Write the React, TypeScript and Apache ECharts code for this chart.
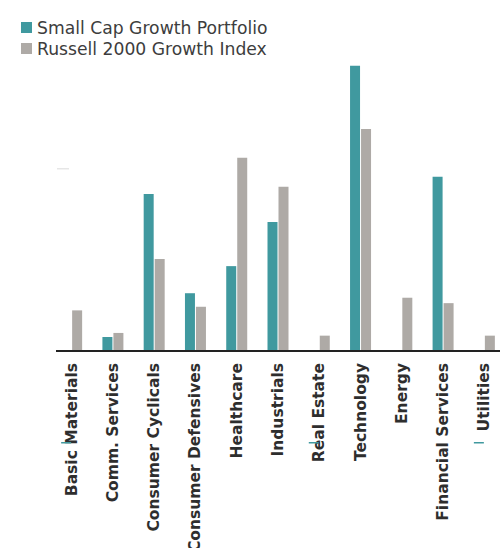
import React, { useEffect, useRef } from "react";
import * as echarts from "echarts";

const categories = [
  "Basic Materials",
  "Comm. Services",
  "Consumer Cyclicals",
  "Consumer Defensives",
  "Healthcare",
  "Industrials",
  "Real Estate",
  "Technology",
  "Energy",
  "Financial Services",
  "Utilities",
];

const portfolioName = "Small Cap Growth Portfolio";
const indexName = "Russell 2000 Growth Index";

const portfolioValues = [0, 1.55, 17.4, 6.4, 9.4, 14.3, 0, 31.6, 0, 19.3, 0];
const indexValues = [4.5, 2.0, 10.2, 4.9, 21.4, 18.2, 1.7, 24.6, 5.9, 5.3, 1.7];

// categories where a stray zero-value marker appears in the original
const zeroMarkCategories = ["Basic Materials", "Real Estate", "Utilities"];

const TEAL = "#40999f";
const GRAY = "#aeaaa6";

export default function App() {
  const ref = useRef<HTMLDivElement>(null);

  useEffect(() => {
    if (!ref.current) return;
    const chart = echarts.init(ref.current, undefined, { renderer: "svg" });
    chart.setOption({
      animation: false,
      backgroundColor: "#ffffff",
      legend: {
        orient: "vertical",
        left: 16,
        top: 14,
        itemWidth: 11,
        itemHeight: 11,
        itemGap: 4,
        icon: "rect",
        selectedMode: false,
        textStyle: {
          fontFamily: "DejaVu Sans",
          fontSize: 17.2,
          color: "#3d3d3d",
        },
        data: [portfolioName, indexName],
      },
      grid: {
        left: 51,
        top: 35,
        width: 454,
        height: 316,
        containLabel: false,
        outerBoundsMode: "none",
      },
      xAxis: {
        type: "category",
        data: categories,
        axisLine: { show: false },
        axisTick: { show: false },
        axisLabel: {
          rotate: 90,
          interval: 0,
          margin: 12,
          fontFamily: "DejaVu Sans",
          fontWeight: "bold",
          fontSize: 15.5,
          color: "#2e2e2e",
        },
      },
      yAxis: {
        type: "value",
        min: 0,
        max: 35,
        show: false,
        splitLine: { show: false },
      },
      series: [
        {
          name: portfolioName,
          type: "bar",
          data: portfolioValues,
          barWidth: 10,
          barGap: "10%",
          itemStyle: { color: TEAL },
        },
        {
          name: indexName,
          type: "bar",
          data: indexValues,
          barWidth: 10,
          itemStyle: { color: GRAY },
        },
      ],
    });

    const baseY = chart.convertToPixel({ yAxisIndex: 0 }, 0) as number;
    const graphics: any[] = [
      {
        type: "line",
        shape: { x1: 56, y1: baseY, x2: 500, y2: baseY },
        style: { stroke: "#222222", lineWidth: 2 },
        z: 10,
      },
      {
        type: "rect",
        shape: { x: 57, y: 168, width: 12, height: 1.5 },
        style: { fill: "#e6e6e6" },
      },
    ];
    zeroMarkCategories.forEach((c) => {
      const cx = chart.convertToPixel({ xAxisIndex: 0 }, c) as number;
      graphics.push({
        type: "rect",
        shape: { x: cx - 10.5, y: 442, width: 10, height: 1.5 },
        style: { fill: TEAL },
        z: 10,
      });
    });
    chart.setOption({ graphic: graphics });

    return () => chart.dispose();
  }, []);

  return (
    <div
      ref={ref}
      style={{ position: "fixed", left: 0, top: 0, width: 500, height: 548 }}
    />
  );
}
